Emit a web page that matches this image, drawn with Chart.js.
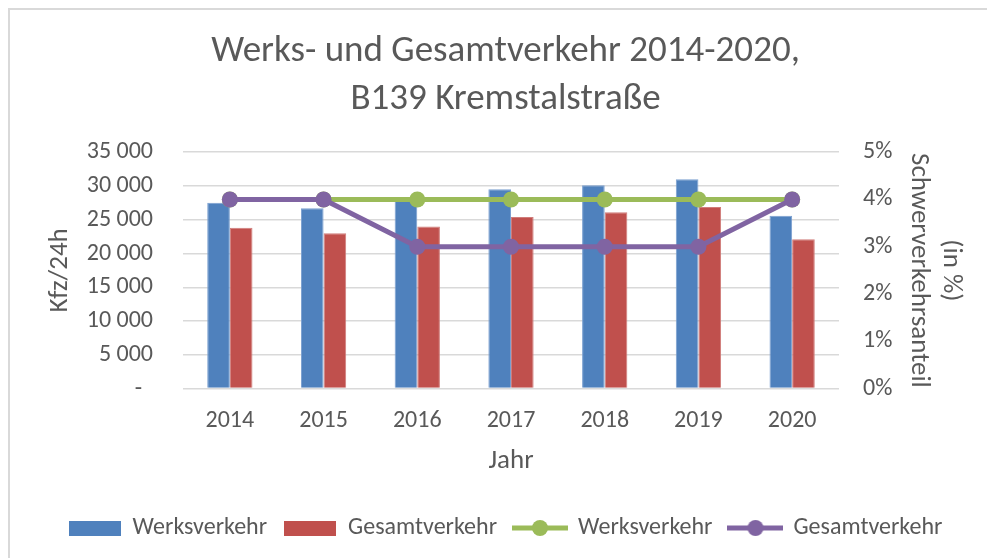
<!DOCTYPE html>
<html>
<head>
<meta charset="utf-8">
<script src="https://cdn.jsdelivr.net/npm/chart.js@4/dist/chart.umd.min.js"></script>
<style>
  html, body { margin: 0; padding: 0; background: #fff; overflow: hidden; }
  #frame { position: absolute; left: 8px; top: 8px; width: 1000px; height: 600px; border: 2px solid #d9d9d9; box-sizing: border-box; }
  #chart { position: absolute; left: 0; top: 0; }
</style>
</head>
<body>
<div id="frame"></div>
<canvas id="chart" width="987" height="558"></canvas>
<script>
// Daten
const years = ['2014', '2015', '2016', '2017', '2018', '2019', '2020'];
const werksverkehr = [27500, 26700, 27800, 29500, 30100, 31000, 25600];
const gesamtverkehr = [23800, 23000, 24000, 25400, 26100, 26900, 22100];
const werksAnteil = [4, 4, 4, 4, 4, 4, 4];
const gesamtAnteil = [4, 4, 3, 3, 3, 3, 4];

const FONT = "Carlito, Lato, 'Open Sans', sans-serif";
const GREY = '#595959';

const colors = {
    blue: '#4f81bd',
    red: '#c0504d',
    green: '#9bbb59',
    purple: '#8064a2'
};

// Legendensymbole
function boxIcon(color) {
    const c = document.createElement('canvas');
    c.width = 52; c.height = 15;
    const g = c.getContext('2d');
    g.fillStyle = color;
    g.fillRect(0, 0, 52, 15);
    return c;
}

function lineIcon(color) {
    const c = document.createElement('canvas');
    c.width = 56; c.height = 18;
    const g = c.getContext('2d');
    g.strokeStyle = color;
    g.lineWidth = 5;
    g.beginPath();
    g.moveTo(0, 9);
    g.lineTo(56, 9);
    g.stroke();
    g.fillStyle = color;
    g.beginPath();
    g.arc(28, 9, 8, 0, Math.PI * 2);
    g.fill();
    return c;
}

function formatThousands(v) {
    if (v === 0) return '-  ';
    return String(v).replace(/\B(?=(\d{3})+(?!\d))/g, ' ');
}

const ctx = document.getElementById('chart');

const chart = new Chart(ctx, {
    data: {
        labels: years,
        datasets: [
            {
                type: 'bar',
                label: 'Werksverkehr',
                data: werksverkehr,
                backgroundColor: colors.blue,
                borderColor: '#7a9fd0',
                borderWidth: 1,
                yAxisID: 'y',
                order: 2,
                categoryPercentage: 0.483,
                barPercentage: 1
            },
            {
                type: 'bar',
                label: 'Gesamtverkehr',
                data: gesamtverkehr,
                backgroundColor: colors.red,
                borderColor: '#d07c7a',
                borderWidth: 1,
                yAxisID: 'y',
                order: 3,
                categoryPercentage: 0.483,
                barPercentage: 1
            },
            {
                type: 'line',
                label: 'Werksverkehr',
                data: werksAnteil,
                borderColor: colors.green,
                backgroundColor: colors.green,
                borderWidth: 5,
                pointRadius: 8,
                pointHoverRadius: 8,
                pointBorderWidth: 0,
                yAxisID: 'y1',
                order: 1
            },
            {
                type: 'line',
                label: 'Gesamtverkehr',
                data: gesamtAnteil,
                borderColor: colors.purple,
                backgroundColor: colors.purple,
                borderWidth: 5,
                pointRadius: 8,
                pointHoverRadius: 8,
                pointBorderWidth: 0,
                yAxisID: 'y1',
                order: 0
            }
        ]
    },
    options: {
        responsive: false,
        animation: false,
        devicePixelRatio: 1,
        layout: {
            padding: { top: 0, left: 44, right: 20, bottom: 8 }
        },
        plugins: {
            title: {
                display: true,
                text: ['Werks- und Gesamtverkehr 2014-2020,', 'B139 Kremstalstraße'],
                color: GREY,
                font: { family: FONT, size: 37, weight: 'normal', lineHeight: 1.3 },
                padding: { top: 28, bottom: 28 }
            },
            legend: {
                position: 'bottom',
                // leerer Titel schiebt die Einträge etwas nach unten
                title: { display: true, text: '', font: { size: 1 }, padding: { top: 20, bottom: 0 } },
                labels: {
                    color: GREY,
                    font: { family: FONT, size: 24 },
                    usePointStyle: true,
                    pointStyleWidth: 52,
                    padding: 17,
                    generateLabels: (chart) => {
                        const icons = [boxIcon(colors.blue), boxIcon(colors.red), lineIcon(colors.green), lineIcon(colors.purple)];
                        return chart.data.datasets.map((ds, i) => ({
                            text: ds.label,
                            fontColor: GREY,
                            pointStyle: icons[i],
                            fillStyle: 'transparent',
                            strokeStyle: 'transparent',
                            lineWidth: 0,
                            hidden: false,
                            datasetIndex: i
                        }));
                    }
                }
            },
            tooltip: { enabled: false }
        },
        scales: {
            x: {
                grid: { display: false, drawTicks: false },
                border: { display: false },
                ticks: { color: GREY, font: { family: FONT, size: 24 }, padding: 18 },
                title: {
                    display: true,
                    text: 'Jahr',
                    color: GREY,
                    font: { family: FONT, size: 27 },
                    padding: { top: 9, bottom: 0 }
                },
                afterFit: (scale) => { scale.height = scale.height - 17; }
            },
            y: {
                position: 'left',
                min: 0,
                max: 35000,
                ticks: {
                    stepSize: 5000,
                    color: GREY,
                    font: { family: FONT, size: 24 },
                    padding: 30,
                    callback: (v) => formatThousands(v)
                },
                grid: { color: '#d9d9d9', lineWidth: 1.5, drawTicks: false },
                border: { display: false },
                title: {
                    display: true,
                    text: 'Kfz/24h',
                    color: GREY,
                    font: { family: FONT, size: 27 },
                    padding: { top: 0, bottom: 0 }
                },
                afterFit: (scale) => { scale.width = 139; }
            },
            y1: {
                position: 'right',
                min: 0,
                max: 5,
                ticks: {
                    stepSize: 1,
                    color: GREY,
                    font: { family: FONT, size: 24 },
                    padding: 24,
                    callback: (v) => v + '%'
                },
                grid: { display: false, drawTicks: false },
                border: { display: false },
                title: {
                    display: true,
                    text: ['(in %)', 'Schwerverkehrsanteil'],
                    color: GREY,
                    font: { family: FONT, size: 27, lineHeight: 1.2 },
                    padding: { top: 0, bottom: 0 }
                },
                afterFit: (scale) => { scale.width = 128; }
            }
        }
    }
});
</script>
</body>
</html>
